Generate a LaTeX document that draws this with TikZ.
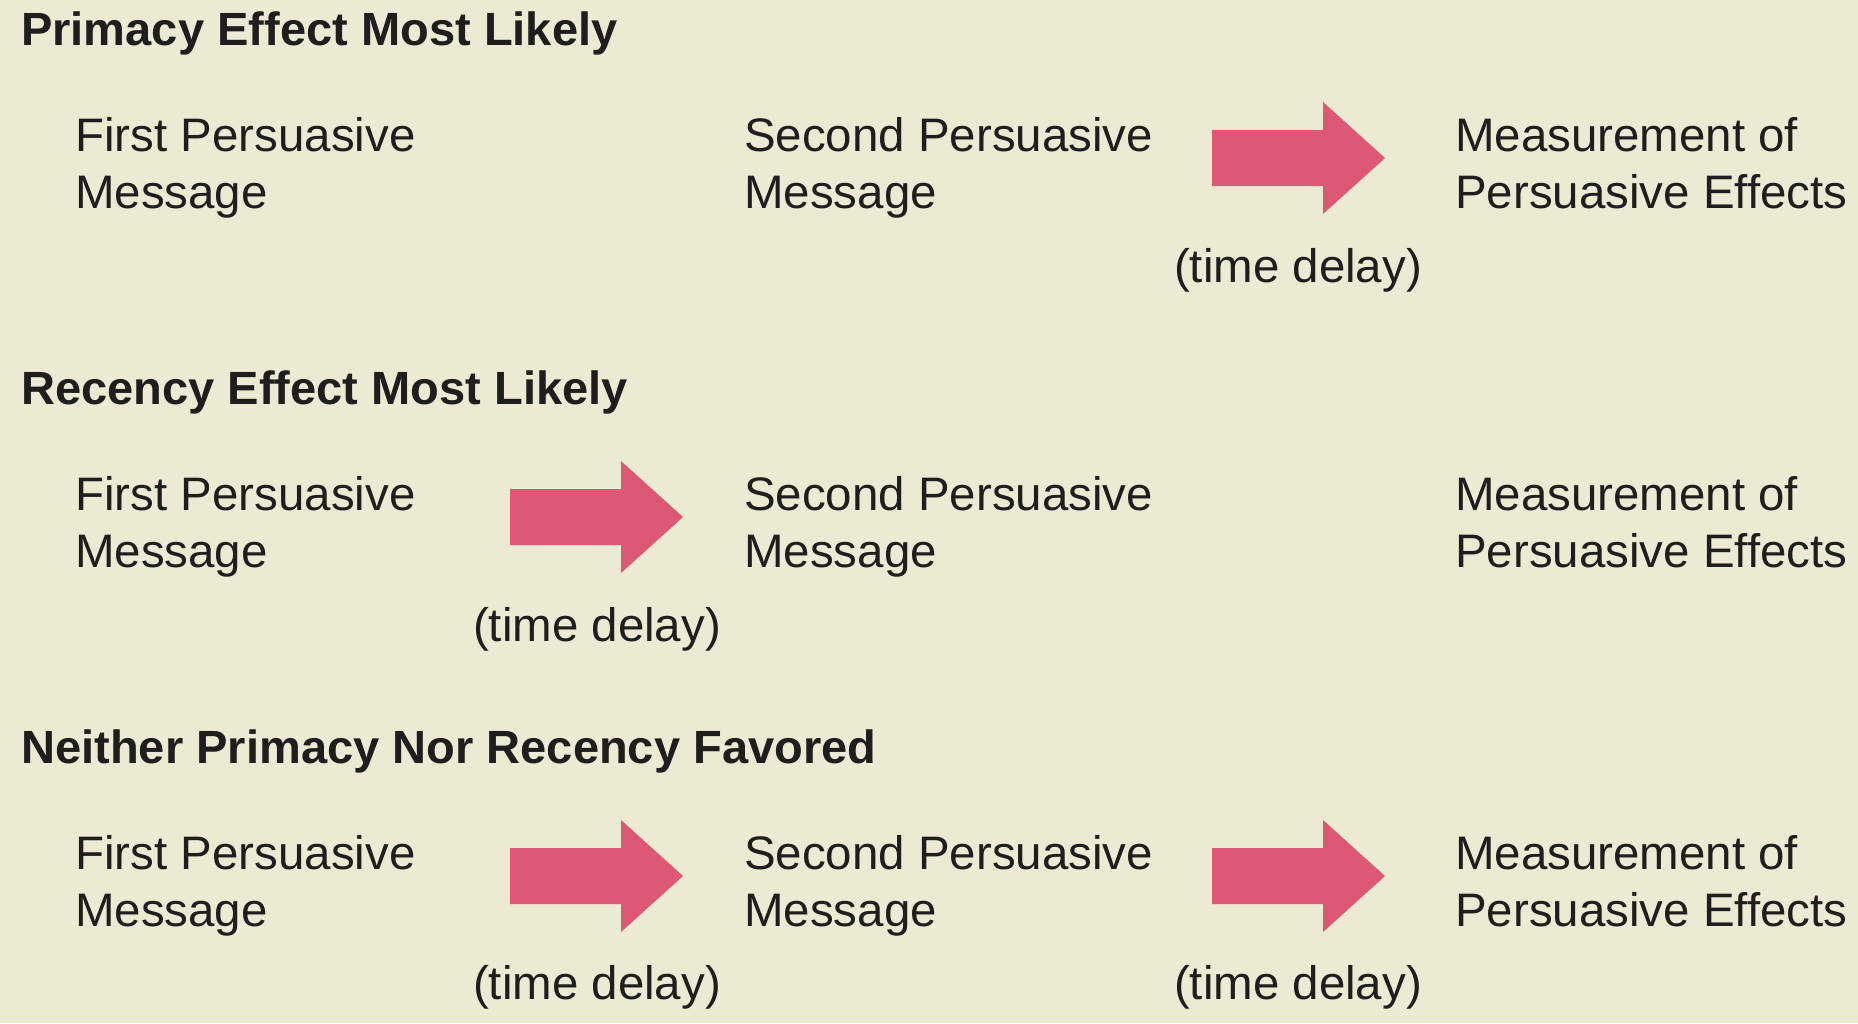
\documentclass[tikz,border=0pt]{standalone}
\usepackage{fontspec}
\setmainfont[FakeStretch=1.01]{Liberation Sans}
\definecolor{bgc}{HTML}{EDEAD3}
\definecolor{arrowc}{HTML}{DC5874}
\definecolor{txtc}{HTML}{1E1E1E}
\newcommand\twoline[2]{\vtop{\baselineskip=57pt\hbox{#1}\hbox{#2}}}
\tikzset{
  head/.style={anchor=base west, inner sep=0pt, text=txtc, font=\fontsize{46.6}{55}\selectfont\bfseries},
  msg/.style={anchor=base west, inner sep=0pt, text=txtc, font=\fontsize{47}{57}\selectfont},
  delay/.style={anchor=base, inner sep=0pt, text=txtc, font=\fontsize{47}{57}\selectfont},
  fatarrow/.pic={\fill[arrowc] (0,-28) -- (111,-28) -- (111,-56) -- (173,0) -- (111,56) -- (111,28) -- (0,28) -- cycle;}
}
\begin{document}
\begin{tikzpicture}[x=1pt,y=-1pt]
\useasboundingbox (0,0) rectangle (1858,1023);
\fill[bgc] (0,0) rectangle (1858,1023);

% Row 1
\node[head] (h1) at (21,45) {Primacy Effect Most Likely};
\node[msg] (f1) at (75,151) {\twoline{First Persuasive}{Message}};
\node[msg] (s1) at (744,151) {\twoline{Second Persuasive}{Message}};
\node[msg] (m1) at (1455,151) {\twoline{Measurement of}{Persuasive Effects}};
\coordinate (a1) at (1212,158);
\pic at (a1) {fatarrow};
\node[delay] (d1) at (1298,282) {(time delay)};

% Row 2
\node[head] (h2) at (21,404) {Recency Effect Most Likely};
\node[msg] (f2) at (75,510) {\twoline{First Persuasive}{Message}};
\node[msg] (s2) at (744,510) {\twoline{Second Persuasive}{Message}};
\node[msg] (m2) at (1455,510) {\twoline{Measurement of}{Persuasive Effects}};
\coordinate (a2) at (510,517);
\pic at (a2) {fatarrow};
\node[delay] (d2) at (597,641) {(time delay)};

% Row 3
\node[head] (h3) at (21,763) {Neither Primacy Nor Recency Favored};
\node[msg] (f3) at (75,869) {\twoline{First Persuasive}{Message}};
\node[msg] (s3) at (744,869) {\twoline{Second Persuasive}{Message}};
\node[msg] (m3) at (1455,869) {\twoline{Measurement of}{Persuasive Effects}};
\coordinate (a3) at (510,876);
\pic at (a3) {fatarrow};
\node[delay] (d3) at (597,999) {(time delay)};
\coordinate (a4) at (1212,876);
\pic at (a4) {fatarrow};
\node[delay] (d4) at (1298,999) {(time delay)};
\end{tikzpicture}
\end{document}
